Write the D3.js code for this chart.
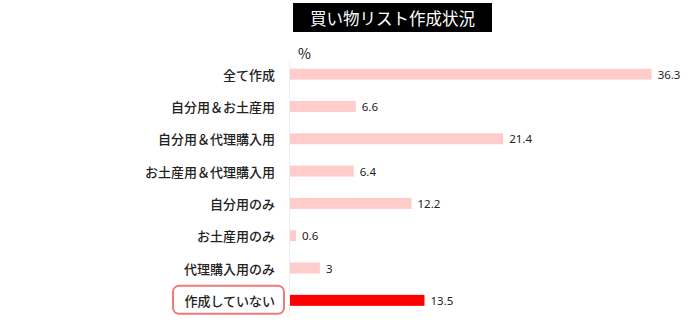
<!DOCTYPE html>
<html>
<head>
<meta charset="utf-8">
<script src="https://cdn.jsdelivr.net/npm/d3@7"></script>
<style>
  html, body { margin: 0; padding: 0; background: #fff; }
  svg { display: block; font-family: "Noto Sans CJK JP", "Noto Sans", sans-serif; }
</style>
</head>
<body>
<svg id="chart" width="700" height="325"></svg>
<script>
// Shopping-list preparation survey (%)
const categories = [
  "全て作成",
  "自分用＆お土産用",
  "自分用＆代理購入用",
  "お土産用＆代理購入用",
  "自分用のみ",
  "お土産用のみ",
  "代理購入用のみ",
  "作成していない"
];
const values = [36.3, 6.6, 21.4, 6.4, 12.2, 0.6, 3, 13.5];
const highlighted = ["作成していない"];
const title = "買い物リスト作成状況";
const unitLabel = "%";

const svg = d3.select("#chart");
const margin = { left: 290 };

const x = d3.scaleLinear().domain([0, 40]).range([margin.left, margin.left + 398.5]);
const y = d3.scaleBand().domain(categories).range([58, 316.5]).paddingInner(0.66).paddingOuter(0.33);

// Title block
const titleG = svg.append("g");
titleG.append("rect")
  .attr("x", 293).attr("y", 3).attr("width", 199).attr("height", 29)
  .attr("fill", "#000");
titleG.append("text")
  .attr("x", 392.5).attr("y", 18)
  .attr("text-anchor", "middle").attr("dominant-baseline", "central")
  .attr("fill", "#fff").attr("font-size", 16.5).attr("font-weight", 400)
  .text(title);

// Unit label
svg.append("text")
  .attr("x", 298).attr("y", 53)
  .attr("dominant-baseline", "central")
  .attr("font-size", 14).attr("fill", "#111")
  .text(unitLabel);

// Baseline axis
const axis = d3.axisLeft(y).tickSize(0).tickFormat("");
const axisG = svg.append("g").attr("transform", `translate(${margin.left - 0.5},0)`).call(axis);
axisG.select(".domain").attr("stroke", "#eeeeee").attr("stroke-width", 1)
  .attr("d", `M0,62V316`);

// Highlight box around the emphasised category
highlighted.forEach(c => {
  const cy = y(c) + y.bandwidth() / 2;
  svg.append("rect")
    .attr("x", 173).attr("y", cy - 14.5).attr("width", 111).attr("height", 28)
    .attr("rx", 6).attr("ry", 6)
    .attr("fill", "none").attr("stroke", "#f07a7a").attr("stroke-width", 2);
});

// Category labels
svg.append("g").selectAll("text")
  .data(categories)
  .join("text")
  .attr("x", 275)
  .attr("y", d => y(d) + y.bandwidth() / 2)
  .attr("text-anchor", "end").attr("dominant-baseline", "central")
  .attr("font-size", 13).attr("font-weight", 500).attr("fill", "#222")
  .text(d => d);

// Bars
const data = categories.map((c, i) => ({ c, v: values[i] }));
svg.append("g").selectAll("rect")
  .data(data)
  .join("rect")
  .attr("x", x(0))
  .attr("y", d => y(d.c))
  .attr("width", d => x(d.v) - x(0))
  .attr("height", y.bandwidth())
  .attr("fill", d => highlighted.includes(d.c) ? "#ff0000" : "#ffcccc");

// Value labels
svg.append("g").selectAll("text")
  .data(data)
  .join("text")
  .attr("x", d => x(d.v) + 6)
  .attr("y", d => y(d.c) + y.bandwidth() / 2)
  .attr("dominant-baseline", "central")
  .attr("font-size", 11.5).attr("fill", "#222")
  .attr("font-family", "'Noto Sans', sans-serif")
  .text(d => d.v);
</script>
</body>
</html>
